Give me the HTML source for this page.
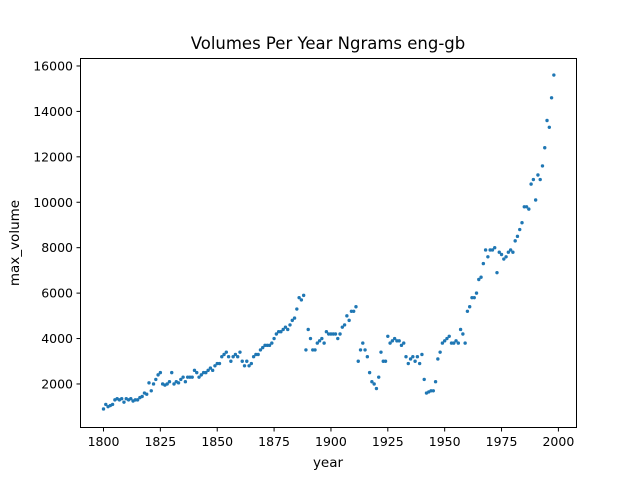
<!DOCTYPE html>
<html><head><meta charset="utf-8"><style>
body{margin:0;background:#fff;}
svg text{font-family:"DejaVu Sans","Liberation Sans",sans-serif;fill:#000;}
</style></head><body>
<svg id="chart" width="640" height="480">
<rect x="0" y="0" width="640" height="480" fill="#fff"/>
<text x="328" y="49" font-size="16.5" text-anchor="middle">Volumes Per Year Ngrams eng-gb</text>
<g id="marks"></g>
<rect x="80.5" y="58.5" width="496" height="369" fill="none" stroke="#000" stroke-width="1"/>
<g id="xt"></g>
<g id="yt"></g>
<text x="328" y="467" font-size="13.5" text-anchor="middle">year</text>
<text transform="translate(19,243) rotate(-90)" font-size="13.5" text-anchor="middle">max_volume</text>
</svg>
<script>
const startYear = 1800;
const volumes = [900,1100,1000,1050,1100,1300,1350,1300,1350,1200,1350,1300,1350,1250,1300,1300,1400,1450,1600,1550,
2050,1700,2000,2200,2400,2500,2000,1950,2000,2100,2500,2000,2100,2050,2200,2300,2100,2300,2300,2300,
2600,2500,2300,2400,2500,2500,2600,2700,2600,2800,2900,2900,3200,3300,3400,3200,3000,3200,3300,3200,
3400,3000,2800,3000,2800,2900,3200,3300,3300,3500,3600,3700,3700,3700,3800,4000,4200,4300,4300,4400,
4500,4400,4600,4800,4900,5300,5800,5700,5900,3500,4400,4000,3500,3500,3800,3900,4000,3800,4300,4200,
4200,4200,4200,4000,4200,4500,4600,5000,4800,5200,5200,5400,3000,3500,3800,3500,3200,2500,2100,2000,
1800,2300,3400,3000,3000,4100,3800,3900,4000,3900,3900,3700,3800,3200,2900,3100,3200,3000,3200,2900,
3300,2200,1600,1650,1700,1700,2100,3100,3400,3800,3900,4000,4100,3800,3800,3900,3800,4400,4200,3800,
5200,5400,5800,5800,6000,6600,6700,7300,7900,7600,7900,7900,8000,6900,7800,7700,7500,7600,7800,7900,
7800,8300,8500,8800,9100,9800,9800,9700,10800,11000,10100,11200,11000,11600,12400,13600,13300,14600,15600];
const xTicks = [1800,1825,1850,1875,1900,1925,1950,1975,2000];
const yTicks = [2000,4000,6000,8000,10000,12000,14000,16000];
const xs = v => 103.5 + (v-1800)*2.2745;
const ys = v => 429.4 - v*0.022714;
const NS="http://www.w3.org/2000/svg";
const marks=document.getElementById('marks');
volumes.forEach((v,i)=>{
  const c=document.createElementNS(NS,'circle');
  c.setAttribute('cx',xs(startYear+i));c.setAttribute('cy',ys(v));c.setAttribute('r',1.7);c.setAttribute('fill','#1f77b4');
  
  
  marks.appendChild(c);
});
const xt=document.getElementById('xt');
xTicks.forEach(t=>{
  const l=document.createElementNS(NS,'line');
  l.setAttribute('x1',xs(t));l.setAttribute('x2',xs(t));l.setAttribute('y1',427.5);l.setAttribute('y2',431.5);l.setAttribute('stroke','#000');
  
  
  xt.appendChild(l);
  const tx=document.createElementNS(NS,'text');
  tx.setAttribute('x',xs(t));tx.setAttribute('y',446);tx.setAttribute('font-size','12.5');tx.setAttribute('text-anchor','middle');
  tx.textContent=t;
  
  
  xt.appendChild(tx);
});
const yt=document.getElementById('yt');
yTicks.forEach(t=>{
  const l=document.createElementNS(NS,'line');
  l.setAttribute('x1',76.5);l.setAttribute('x2',80.5);l.setAttribute('y1',ys(t));l.setAttribute('y2',ys(t));l.setAttribute('stroke','#000');
  
  
  yt.appendChild(l);
  const tx=document.createElementNS(NS,'text');
  tx.setAttribute('x',73);tx.setAttribute('y',ys(t)+4.5);tx.setAttribute('font-size','12.5');tx.setAttribute('text-anchor','end');
  tx.textContent=t;
  
  
  yt.appendChild(tx);
});
</script>
</body></html>
